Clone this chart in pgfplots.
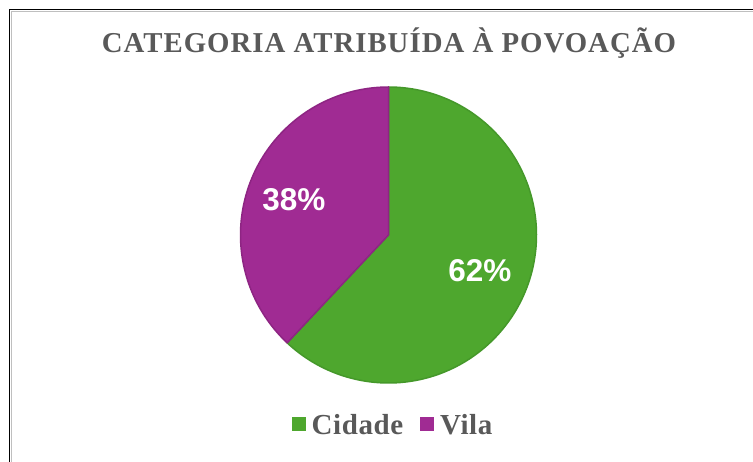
\documentclass[border=0pt]{standalone}
\usepackage{pgfplots}
\pgfplotsset{compat=1.18}
\usepackage{pgfplotstable}
\usepackage{fontspec}
\setmainfont{Liberation Serif}
\newfontfamily\labelfont{Liberation Sans}
\definecolor{cgreen}{HTML}{4EA72E}
\definecolor{cgreenedge}{HTML}{45982A}
\definecolor{cpurple}{HTML}{A02B93}
\definecolor{cpurpleedge}{HTML}{8E2583}
\definecolor{ctext}{HTML}{595959}
\pgfplotstableread{
cat value
Cidade 62
Vila 38
}\piedata
\begin{document}
\begin{tikzpicture}
\pgfplotstablegetelem{0}{value}\of\piedata \let\vA\pgfplotsretval
\pgfplotstablegetelem{1}{value}\of\piedata \let\vB\pgfplotsretval
\pgfmathsetmacro{\aStart}{90}
\pgfmathsetmacro{\frac}{\vA/(\vA+\vB)}
\pgfmathsetmacro{\aMid}{90-360*\frac}
\pgfmathsetmacro{\aEnd}{-270}
\begin{axis}[
  at={(388.5bp,227bp)}, anchor=origin,
  scale only axis, x=148bp, y=148bp,
  xmin=-1.05, xmax=1.05, ymin=-1.05, ymax=1.05,
  hide axis, clip=false,
  legend columns=2,
  legend style={at={(0.5145,-0.1113)}, anchor=center, draw=none, fill=none,
    font=\fontsize{29bp}{32bp}\selectfont\bfseries\addfontfeature{LetterSpace=2},
    text=ctext, /tikz/every even column/.append style={column sep=15bp},
    inner sep=0pt, cells={anchor=west}},
  legend image code/.code={\fill[#1, draw=none] (0bp,-6bp) rectangle (14bp,8bp); \path[draw=none, fill=none] (0bp,0bp) -- (18bp,0bp);},
]
\addplot[fill=cgreen, draw=cgreenedge, line width=1.5bp, line join=round,
  domain=\aMid:\aStart, samples=150] ({cos(x)},{sin(x)}) -- (axis cs:0,0) -- cycle;
\addlegendentry{Cidade}
\addplot[fill=cpurple, draw=cpurpleedge, line width=1.5bp, line join=round,
  domain=\aEnd:\aMid, samples=100] ({cos(x)},{sin(x)}) -- (axis cs:0,0) -- cycle;
\addlegendentry{Vila}
\node[text=white, font=\labelfont\fontsize{31.5bp}{34bp}\selectfont\bfseries] at (axis cs:-0.639,0.236) {\vB\%};
\node[text=white, font=\labelfont\fontsize{31.5bp}{34bp}\selectfont\bfseries] at (axis cs:0.618,-0.243) {\vA\%};
\end{axis}
\node[anchor=base, text=ctext, font=\fontsize{28.8bp}{31bp}\selectfont\bfseries\addfontfeature{LetterSpace=3.5}] at (389bp,409bp) {CATEGORIA ATRIBUÍDA À POVOAÇÃO};
\draw[black!25, line width=0.8bp] (11.5bp,0) -- (11.5bp,450.5bp) -- (753bp,450.5bp);
\draw[black, line width=1.6bp] (9.5bp,0) -- (9.5bp,452.5bp) -- (753bp,452.5bp);
\pgfresetboundingbox
\path (0,0) rectangle (753bp,462bp);
\end{tikzpicture}
\end{document}
